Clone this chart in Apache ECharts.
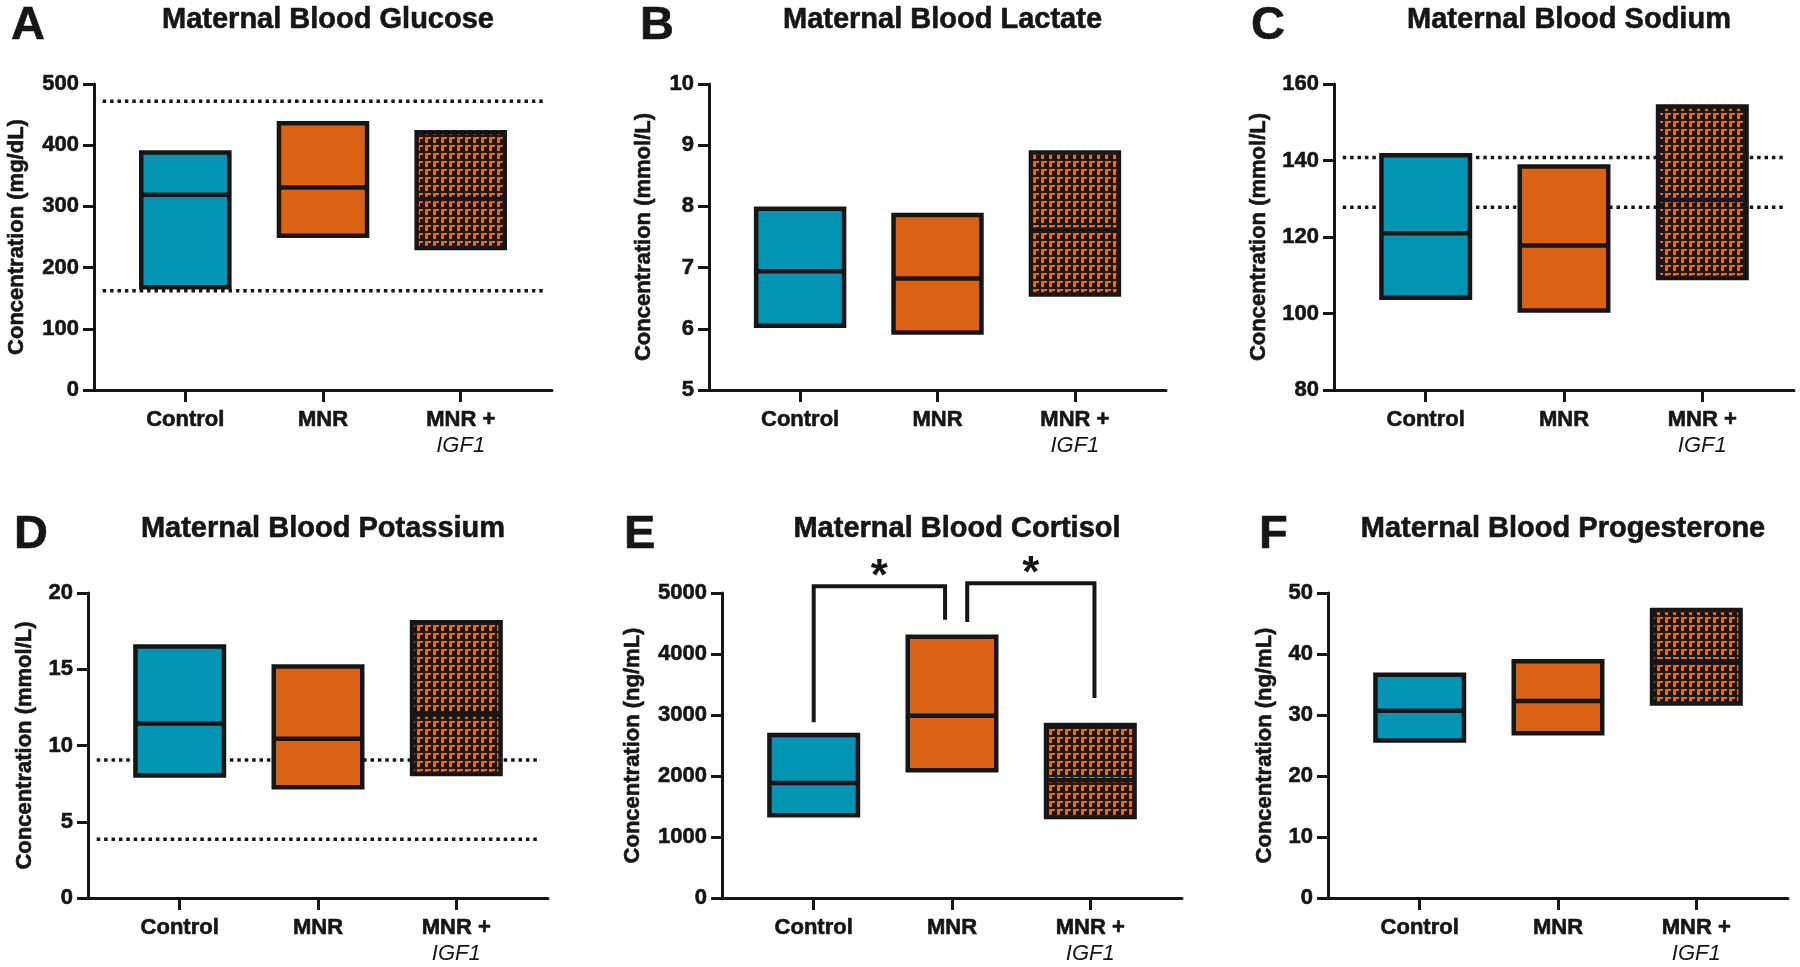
<!DOCTYPE html>
<html>
<head>
<meta charset="utf-8">
<title>Maternal blood measures</title>
<script src="https://cdn.jsdelivr.net/npm/echarts@6/dist/echarts.min.js"></script>
<style>
    html, body { margin: 0; padding: 0; background: #fff; }
    #chart { width: 1800px; height: 967px; }
</style>
</head>
<body>
<div id="chart"></div>
<script>
// groups on the x axis
var categories = ['Control', 'MNR', 'MNR +|IGF1'];

// floating bars: low, middle line, high
var glucoseLow = [168, 252, 232];
var glucoseMid = [319, 331, 312];
var glucoseHigh = [388, 436, 421];
var glucoseRef = [472, 162];

var lactateLow = [6.05, 5.94, 6.56];
var lactateMid = [6.94, 6.82, 7.62];
var lactateHigh = [7.96, 7.86, 8.88];

var sodiumLow = [104.1, 100.8, 109.3];
var sodiumMid = [121.0, 117.8, 129.7];
var sodiumHigh = [141.4, 138.4, 154.1];
var sodiumRef = [140.8, 127.8];

var potassiumLow = [8.03, 7.26, 8.13];
var potassiumMid = [11.45, 10.45, 12.04];
var potassiumHigh = [16.5, 15.18, 18.08];
var potassiumRef = [9.05, 3.86];

var cortisolLow = [1355, 2093, 1328];
var cortisolMid = [1885, 2989, 1929];
var cortisolHigh = [2672, 4284, 2836];
// significance brackets: from x, to x, top, left leg end, right leg end
var cortisolBrackets = [[0, 0.95, 5110, 2880, 4560], [1.11, 2.03, 5160, 4525, 3280]];

var progLow = [25.8, 27.0, 31.9];
var progMid = [30.7, 32.3, 38.8];
var progHigh = [36.6, 38.8, 47.2];

// y axis ranges: min, max, interval
var yRanges = [[0, 500, 100], [5, 10, 1], [80, 160, 20], [0, 20, 5], [0, 5000, 1000], [0, 50, 10]];
var panelTitles = ['Maternal Blood Glucose', 'Maternal Blood Lactate', 'Maternal Blood Sodium',
    'Maternal Blood Potassium', 'Maternal Blood Cortisol', 'Maternal Blood Progesterone'];
var panelLetters = ['A', 'B', 'C', 'D', 'E', 'F'];
var yNames = ['Concentration (mg/dL)', 'Concentration (mmol/L)', 'Concentration (mmol/L)',
    'Concentration (mmol/L)', 'Concentration (ng/mL)', 'Concentration (ng/mL)'];

// layout of each panel: grid left, top, width, height, letter x, name gap
var layout = [
    [94, 84, 458, 306, 6, 66],
    [709, 84, 457, 306, 635, 54],
    [1334, 84, 460, 306, 1246, 64],
    [88, 593, 460, 305, 9, 52],
    [722, 593, 460, 305, 619, 78],
    [1328, 593, 460, 305, 1254, 52]
];

var FONT = "'Liberation Sans', Arial, Helvetica, sans-serif";
var INK = '#161616';
var TEAL = '#0094b4';
var ORANGE = '#d96312';

// orange-on-black hatch for the MNR + IGF1 group
function makePattern() {
    var c = document.createElement('canvas');
    c.width = 8;
    c.height = 8;
    var ctx = c.getContext('2d');
    ctx.fillStyle = INK;
    ctx.fillRect(0, 0, 8, 8);
    ctx.fillStyle = '#ee6c10';
    ctx.fillRect(1, 1, 6, 2);
    ctx.fillRect(1, 1, 3, 6);
    return c;
}
var patternCanvas = makePattern();

// bold text in the figure is a little heavier than Liberation Sans Bold
function heavy(size, extra) {
    var s = { fontFamily: FONT, fontWeight: 'bold', fontSize: size, color: INK,
        textBorderColor: INK, textBorderWidth: 0.6 };
    for (var k in extra) s[k] = extra[k];
    return s;
}

function boxData(low, mid, high) {
    var out = [];
    for (var i = 0; i < low.length; i++) {
        out.push([i, low[i], mid[i], high[i]]);
    }
    return out;
}

function renderBox(params, api) {
    var x = api.value(0);
    var lo = api.coord([x, api.value(1)]);
    var mid = api.coord([x, api.value(2)]);
    var hi = api.coord([x, api.value(3)]);
    var w = api.size([0.64, 0])[0];
    var fill;
    if (x === 0) fill = TEAL;
    else if (x === 1) fill = ORANGE;
    else fill = { image: patternCanvas, repeat: 'repeat' };
    return {
        type: 'group',
        children: [{
            type: 'rect',
            shape: { x: lo[0] - w / 2, y: hi[1], width: w, height: lo[1] - hi[1] },
            style: { fill: fill, stroke: INK, lineWidth: 4.5 }
        }, {
            type: 'line',
            shape: { x1: lo[0] - w / 2, y1: mid[1], x2: lo[0] + w / 2, y2: mid[1] },
            style: { stroke: INK, lineWidth: 4.5 }
        }]
    };
}

function renderBracket(params, api) {
    var p0 = api.coord([api.value(0), api.value(3)]);
    var p1 = api.coord([api.value(0), api.value(2)]);
    var p2 = api.coord([api.value(1), api.value(2)]);
    var p3 = api.coord([api.value(1), api.value(4)]);
    return {
        type: 'group',
        children: [{
            type: 'polyline',
            shape: { points: [p0, p1, p2, p3] },
            style: { stroke: INK, lineWidth: 4, fill: null }
        }, {
            type: 'text',
            style: {
                x: (p1[0] + p2[0]) / 2, y: p1[1] + 14,
                text: '*', fill: INK, font: 'bold 44px ' + FONT,
                textAlign: 'center', textVerticalAlign: 'bottom'
            }
        }]
    };
}

var grids = [], xAxes = [], yAxes = [], series = [], titles = [];

layout.forEach(function (l, i) {
    grids.push({ left: l[0], top: l[1], width: l[2], height: l[3] });
    xAxes.push({
        type: 'value', gridIndex: i, min: -0.663, max: 2.663,
        splitLine: { show: false },
        axisLine: { show: true, onZero: false, lineStyle: { color: INK, width: 3 } },
        axisTick: { show: true, length: 12, customValues: [0, 1, 2], lineStyle: { color: INK, width: 3 } },
        axisLabel: {
            customValues: [0, 1, 2], margin: 16,
            formatter: function (v) {
                var parts = categories[Math.round(v)].split('|');
                return parts.length > 1 ? '{n|' + parts[0] + '}\n{it|' + parts[1] + '}' : '{n|' + parts[0] + '}';
            },
            rich: {
                n: heavy(22, { lineHeight: 27 }),
                it: { fontFamily: FONT, fontStyle: 'italic', fontWeight: 'normal', fontSize: 22, lineHeight: 26, color: INK }
            }
        }
    });
    var r = yRanges[i];
    yAxes.push({
        type: 'value', gridIndex: i, min: r[0], max: r[1], interval: r[2],
        name: yNames[i], nameLocation: 'middle', nameGap: l[5], nameRotate: 90,
        nameTextStyle: heavy(22, {}),
        splitLine: { show: false },
        axisLine: { show: true, onZero: false, lineStyle: { color: INK, width: 3 } },
        axisTick: { show: true, length: 11, lineStyle: { color: INK, width: 3 } },
        axisLabel: heavy(22, {
            margin: 15,
            formatter: function (v) { return String(v); }
        })
    });
    titles.push({
        text: panelTitles[i], left: l[0] + l[2] / 2, textAlign: 'center', top: l[1] - 84,
        textStyle: heavy(29, {})
    });
    titles.push({
        text: panelLetters[i], left: l[4], top: l[1] - 86,
        textStyle: heavy(47, {})
    });
});

function addRefLines(idx, values) {
    values.forEach(function (v) {
        series.push({
            type: 'line', xAxisIndex: idx, yAxisIndex: idx, z: 1,
            symbol: 'none', silent: true,
            data: [[-0.6, v], [2.61, v]],
            lineStyle: { color: INK, width: 3.5, type: [3.5, 3.9] }
        });
    });
}

function addBoxes(idx, low, mid, high) {
    series.push({
        type: 'custom', xAxisIndex: idx, yAxisIndex: idx, z: 3,
        renderItem: renderBox,
        encode: { x: 0, y: [1, 2, 3] },
        data: boxData(low, mid, high)
    });
}

addRefLines(0, glucoseRef);
addBoxes(0, glucoseLow, glucoseMid, glucoseHigh);
addBoxes(1, lactateLow, lactateMid, lactateHigh);
addRefLines(2, sodiumRef);
addBoxes(2, sodiumLow, sodiumMid, sodiumHigh);
addRefLines(3, potassiumRef);
addBoxes(3, potassiumLow, potassiumMid, potassiumHigh);
addBoxes(4, cortisolLow, cortisolMid, cortisolHigh);
series.push({
    type: 'custom', xAxisIndex: 4, yAxisIndex: 4, z: 4, clip: false,
    renderItem: renderBracket,
    encode: { x: [0, 1], y: [2, 3, 4] },
    data: cortisolBrackets
});
addBoxes(5, progLow, progMid, progHigh);

var myChart = echarts.init(document.getElementById('chart'));
myChart.setOption({
    animation: false,
    backgroundColor: '#fff',
    title: titles,
    grid: grids,
    xAxis: xAxes,
    yAxis: yAxes,
    series: series
});
</script>
</body>
</html>
